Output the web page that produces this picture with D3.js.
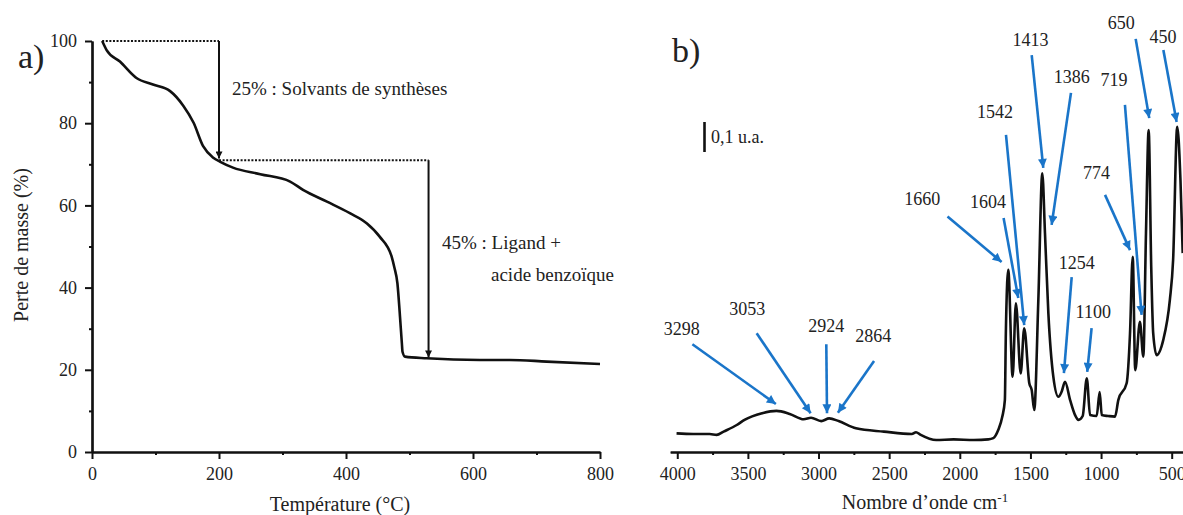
<!DOCTYPE html>
<html>
<head>
<meta charset="utf-8">
<script src="https://cdn.jsdelivr.net/npm/d3@7"></script>
<style>
  body { margin: 0; background: #fff; }
  text { font-family: "Liberation Serif", "Times New Roman", serif; fill: #222; }
</style>
</head>
<body>
<div id="view"></div>
<script>
var width = 1183, height = 515;

// a) ATG : température (°C) / perte de masse (%)
var tgaTemp = [16, 23, 44, 70, 96, 123, 144, 160, 175, 191, 202, 222, 265, 312, 333, 370, 406, 433, 453, 472, 476, 481, 485, 488, 489, 493, 527, 611, 658, 716, 800];
var tgaMass = [100, 97.8, 95, 91, 89.4, 87.8, 84.2, 80.1, 74.4, 71.6, 70.6, 69.2, 67.6, 65.8, 63.7, 60.9, 58.1, 55.6, 52.4, 47.5, 45, 41, 33, 26.4, 24.4, 23.2, 22.8, 22.4, 22.4, 22, 21.4];
var tgaTicksX = [0, 200, 400, 600, 800];
var tgaMinorX = [100, 300, 500, 700];
var tgaTicksY = [0, 20, 40, 60, 80, 100];
var tgaMinorY = [10, 30, 50, 70, 90];
// paliers : [T début, T fin, masse]
var levelT0 = [16, 200];
var levelT1 = [200, 530];
var levelMass = [100, 71];
var stepEnd = [71.4, 23];
var stepLabels = [["25% : Solvants de synthèses"], ["45% : Ligand +", "acide benzoïque"]];

// b) IR : nombre d'onde (cm-1) / absorbance (u.a.)
var irWave = [4005, 3887, 3771, 3721, 3672, 3579, 3524, 3400, 3298, 3204, 3105, 3053, 2981, 2924, 2858, 2735, 2537, 2340, 2310, 2280, 2167, 2044, 1900, 1798, 1763, 1728, 1699, 1681, 1674, 1657, 1626, 1603, 1569, 1544, 1508, 1491, 1473, 1444, 1416, 1397, 1373, 1338, 1302, 1280, 1255, 1219, 1184, 1160, 1130, 1101, 1078, 1031, 1010, 995, 950, 901, 878, 819, 795, 776, 758, 725, 701, 682, 663, 645, 631, 607, 560, 513, 490, 461, 438, 422];
var irAbs  = [0.062, 0.06, 0.06, 0.057, 0.068, 0.09, 0.107, 0.129, 0.137, 0.127, 0.109, 0.114, 0.103, 0.112, 0.103, 0.079, 0.068, 0.06, 0.066, 0.058, 0.04, 0.042, 0.04, 0.042, 0.046, 0.073, 0.118, 0.173, 0.396, 0.607, 0.251, 0.496, 0.262, 0.412, 0.229, 0.207, 0.14, 0.507, 0.929, 0.729, 0.462, 0.251, 0.184, 0.2, 0.234, 0.173, 0.123, 0.107, 0.12, 0.246, 0.123, 0.12, 0.2, 0.123, 0.12, 0.118, 0.173, 0.229, 0.396, 0.651, 0.273, 0.434, 0.318, 0.73, 1.073, 0.618, 0.396, 0.323, 0.373, 0.507, 0.64, 1.084, 0.907, 0.663];
var irTicks = [4000, 3500, 3000, 2500, 2000, 1500, 1000, 500];
var irMinor = [3750, 3250, 2750, 2250, 1750, 1250, 750];
// pics annotés : étiquette, texte [cm-1, u.a.], départ de flèche, pointe de flèche
var peakLabels = ["3298", "3053", "2924", "2864", "1660", "1604", "1542", "1413", "1386", "1254", "1100", "774", "719", "650", "450"];
var peakText = [[3969, 0.41], [3504, 0.479], [2945, 0.42], [2612, 0.387], [2266, 0.843], [1800, 0.833], [1751, 1.133], [1499, 1.373], [1208, 1.25], [1173, 0.63], [1055, 0.467], [1033, 0.93], [909, 1.24], [857, 1.43], [562, 1.383]];
var peakTail = [[3893, 0.359], [3438, 0.396], [2945, 0.359], [2607, 0.303], [2087, 0.785], [1690, 0.78], [1673, 1.057], [1491, 1.323], [1213, 1.197], [1208, 0.583], [1067, 0.413], [972, 0.857], [831, 1.157], [755, 1.377], [559, 1.34]];
var peakTip = [[3302, 0.16], [3056, 0.129], [2940, 0.129], [2863, 0.131], [1704, 0.633], [1586, 0.513], [1544, 0.423], [1409, 0.947], [1350, 0.757], [1263, 0.263], [1098, 0.267], [795, 0.673], [713, 0.457], [659, 1.113], [465, 1.1]];
var scaleBar = [1.0, 1.1];

var blue = "#1a75c9";

var svg = d3.select("#view").append("svg")
	.attr("width", width)
	.attr("height", height);

var defs = svg.append("defs");
function marker(id, color, w, l) {
	defs.append("marker")
		.attr("id", id)
		.attr("markerUnits", "userSpaceOnUse")
		.attr("viewBox", "0 0 10 10")
		.attr("refX", 10).attr("refY", 5)
		.attr("markerWidth", l).attr("markerHeight", w)
		.attr("orient", "auto")
		.append("path").attr("d", "M0,0 L10,5 L0,10 z").attr("fill", color);
}
marker("headK", "#111", 7, 9);
marker("headB", blue, 9, 11);

function styleAxis(g) {
	g.select(".domain").attr("stroke", "#111").attr("stroke-width", 2.2);
	g.selectAll(".tick line").attr("stroke", "#111").attr("stroke-width", 2);
	g.selectAll(".tick text").style("font-size", "18px").style("font-family", '"Liberation Serif", serif').attr("fill", "#222");
}

// ---------- a) ----------
var xA = d3.scaleLinear().domain([0, 800]).range([92, 600]);
var yA = d3.scaleLinear().domain([0, 100]).range([452, 41]);

svg.append("g").attr("transform", "translate(0,452)")
	.call(d3.axisBottom(xA).tickValues(tgaMinorX).tickSize(3).tickSizeOuter(0).tickFormat(""))
	.call(styleAxis);
svg.append("g").attr("transform", "translate(0,452)")
	.call(d3.axisBottom(xA).tickValues(tgaTicksX).tickSize(7).tickSizeOuter(0).tickPadding(8).tickFormat(d3.format("d")))
	.call(styleAxis);
svg.append("g").attr("transform", "translate(92,0)")
	.call(d3.axisLeft(yA).tickValues(tgaMinorY).tickSize(3).tickSizeOuter(0).tickFormat(""))
	.call(styleAxis);
svg.append("g").attr("transform", "translate(92,0)")
	.call(d3.axisLeft(yA).tickValues(tgaTicksY).tickSize(7).tickSizeOuter(0).tickPadding(8).tickFormat(d3.format("d")))
	.call(styleAxis);

svg.append("path")
	.datum(d3.zip(tgaTemp, tgaMass))
	.attr("fill", "none")
	.attr("stroke", "#111")
	.attr("stroke-width", 2.6)
	.attr("stroke-linejoin", "round")
	.attr("d", d3.line().x(function(d) { return xA(d[0]); }).y(function(d) { return yA(d[1]); }).curve(d3.curveMonotoneX));

levelMass.forEach(function(m, i) {
	svg.append("line")
		.attr("x1", xA(levelT0[i])).attr("x2", xA(levelT1[i]))
		.attr("y1", yA(m)).attr("y2", yA(m))
		.attr("stroke", "#111").attr("stroke-width", 2).attr("stroke-dasharray", "2,1.6");
	svg.append("line")
		.attr("x1", xA(levelT1[i])).attr("x2", xA(levelT1[i]))
		.attr("y1", yA(m)).attr("y2", yA(stepEnd[i]))
		.attr("stroke", "#111").attr("stroke-width", 2)
		.attr("marker-end", "url(#headK)");
});

svg.append("text").attr("x", 232).attr("y", 95).style("font-size", "19px").text(stepLabels[0][0]);
svg.append("text").attr("x", 442).attr("y", 249).style("font-size", "19px").text(stepLabels[1][0]);
svg.append("text").attr("x", 491).attr("y", 281).style("font-size", "19px").text(stepLabels[1][1]);

svg.append("text").attr("x", 18).attr("y", 68).style("font-size", "34px").text("a)");
svg.append("text").attr("x", 340).attr("y", 511).attr("text-anchor", "middle").style("font-size", "20px").text("Température (°C)");
svg.append("text").attr("transform", "translate(28,245) rotate(-90)").attr("text-anchor", "middle").style("font-size", "20px").text("Perte de masse (%)");

// ---------- b) ----------
var xB = d3.scaleLinear().domain([4050, 420]).range([670.2, 1183]);
var yB = d3.scaleLinear().domain([0, 1.4]).range([452, 32]);

svg.append("g").attr("transform", "translate(0,452)")
	.call(d3.axisBottom(xB).tickValues(irMinor).tickSize(3).tickSizeOuter(0).tickFormat(""))
	.call(styleAxis);
svg.append("g").attr("transform", "translate(0,452)")
	.call(d3.axisBottom(xB).tickValues(irTicks).tickSize(7).tickSizeOuter(0).tickPadding(8).tickFormat(d3.format("d")))
	.call(styleAxis);

svg.append("path")
	.datum(d3.zip(irWave, irAbs))
	.attr("fill", "none")
	.attr("stroke", "#111")
	.attr("stroke-width", 2.6)
	.attr("stroke-linejoin", "round")
	.attr("d", d3.line().x(function(d) { return xB(d[0]); }).y(function(d) { return yB(d[1]); }).curve(d3.curveMonotoneX));

svg.selectAll(".peakArrow")
	.data(peakLabels).enter()
	.append("line")
	.attr("class", "peakArrow")
	.attr("x1", function(d, i) { return xB(peakTail[i][0]); })
	.attr("y1", function(d, i) { return yB(peakTail[i][1]); })
	.attr("x2", function(d, i) { return xB(peakTip[i][0]); })
	.attr("y2", function(d, i) { return yB(peakTip[i][1]); })
	.attr("stroke", blue).attr("stroke-width", 2.6)
	.attr("marker-end", "url(#headB)");

svg.selectAll(".peakLabel")
	.data(peakLabels).enter()
	.append("text")
	.attr("class", "peakLabel")
	.attr("x", function(d, i) { return xB(peakText[i][0]); })
	.attr("y", function(d, i) { return yB(peakText[i][1]); })
	.attr("dy", "0.35em")
	.attr("text-anchor", "middle")
	.style("font-size", "18px")
	.text(function(d) { return d; });

// barre d'échelle 0,1 u.a.
svg.append("line")
	.attr("x1", 704.5).attr("x2", 704.5)
	.attr("y1", yB(scaleBar[0])).attr("y2", yB(scaleBar[1]))
	.attr("stroke", "#111").attr("stroke-width", 2.6);
svg.append("text").attr("x", 711).attr("y", yB((scaleBar[0] + scaleBar[1]) / 2)).attr("dy", "0.35em")
	.style("font-size", "18px").text("0,1 u.a.");

svg.append("text").attr("x", 672).attr("y", 62).style("font-size", "34px").text("b)");
var xt = svg.append("text").attr("x", 925).attr("y", 509).attr("text-anchor", "middle").style("font-size", "20px");
xt.append("tspan").text("Nombre d’onde cm");
xt.append("tspan").attr("dy", -7).style("font-size", "13px").text("-1");
</script>
</body>
</html>
